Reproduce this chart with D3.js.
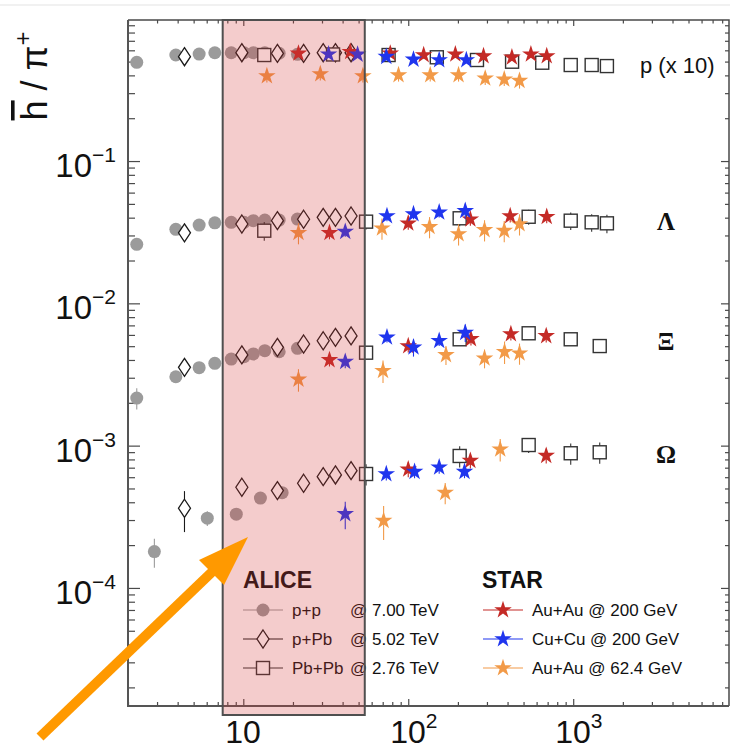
<!DOCTYPE html>
<html><head><meta charset="utf-8">
<script src="https://cdn.jsdelivr.net/npm/d3@7"></script>
<style>body{margin:0;background:#fff}svg{display:block}</style>
</head><body><svg id="c" width="730" height="749"></svg>
<script>
// ---------------- DATA (x = dNch/deta, y = hadron / pi+ ratio; proton plotted x10) ----------------
const bandLabels = ["p (x 10)", "Λ", "Ξ", "Ω"];
const xMajorTicks = [10, 100, 1000];
const yMajorTicks = [1e-1, 1e-2, 1e-3, 1e-4];
const xTickExp = ["", "2", "3"];
const yTickExp = ["−1", "−2", "−3", "−4"];

// ALICE p+p 7.00 TeV
const ppX = [2.26, 3.90, 5.40, 6.72, 8.45, 10.1, 11.5, 13.5, 16.5, 21.3];
const ppProton = [0.494, 0.556, 0.565, 0.577, 0.577, 0.577, 0.577, 0.577, 0.572, 0.562];
const ppLambda = [0.0260, 0.0331, 0.0355, 0.0368, 0.0371, 0.0371, 0.0381, 0.0385, 0.0385, 0.0391];
const ppXi = [2.16e-3, 3.05e-3, 3.53e-3, 3.79e-3, 4.06e-3, 4.22e-3, 4.41e-3, 4.65e-3, 4.57e-3, 4.83e-3];
const ppOmegaX = [2.89, 6.05, 9.07, 12.7, 17.2];
const ppOmega = [1.80e-4, 3.09e-4, 3.30e-4, 4.28e-4, 4.67e-4];
const ppProtonErr = [0.04, 0.03, 0.03, 0.03, 0.03, 0.03, 0.03, 0.03, 0.03, 0.03];
const ppLambdaErr = [0.07, 0.03, 0.03, 0.03, 0.03, 0.03, 0.03, 0.03, 0.03, 0.03];
const ppXiErr = [0.17, 0.06, 0.05, 0.05, 0.05, 0.05, 0.05, 0.05, 0.05, 0.05];
const ppOmegaErr = [0.23, 0.12, 0.07, 0.06, 0.06];

// ALICE p+Pb 5.02 TeV
const pPbX = [4.4, 9.8, 16.1, 23.2, 30.5, 36.2, 45.0];
const pPbProton = [0.541, 0.577, 0.571, 0.571, 0.577, 0.577, 0.577];
const pPbLambda = [0.0313, 0.0361, 0.0381, 0.0390, 0.0402, 0.0402, 0.0411];
const pPbXi = [3.55e-3, 4.34e-3, 4.91e-3, 5.18e-3, 5.46e-3, 5.77e-3, 5.90e-3];
const pPbOmega = [3.63e-4, 5.10e-4, 4.83e-4, 5.44e-4, 6.05e-4, 6.22e-4, 6.67e-4];
const pPbProtonErr = [0.08, 0.03, 0.03, 0.03, 0.03, 0.03, 0.03];
const pPbLambdaErr = [0.13, 0.04, 0.04, 0.04, 0.04, 0.04, 0.04];
const pPbXiErr = [0.12, 0.05, 0.05, 0.05, 0.05, 0.05, 0.05];
const pPbOmegaErr = [0.32, 0.12, 0.10, 0.09, 0.08, 0.08, 0.08];

// ALICE Pb+Pb 2.76 TeV
const PbPbProtonX = [13.4, 35, 76, 149, 261, 426, 649, 966, 1294, 1601];
const PbPbProton = [0.556, 0.561, 0.556, 0.536, 0.513, 0.499, 0.491, 0.473, 0.473, 0.465];
const PbPbLambdaX = [13.4, 55.5, 205, 537, 966, 1294, 1601];
const PbPbLambda = [0.0324, 0.0375, 0.0396, 0.0406, 0.0381, 0.0371, 0.0365];
const PbPbXiX = [55.5, 205, 537, 966, 1448];
const PbPbXi = [4.50e-3, 5.59e-3, 6.16e-3, 5.59e-3, 5.01e-3];
const PbPbOmegaX = [55.5, 205, 537, 966, 1448];
const PbPbOmega = [6.32e-4, 8.46e-4, 1.01e-3, 8.84e-4, 8.98e-4];
const PbPbProtonErr = [0.05, 0.05, 0.05, 0.05, 0.05, 0.05, 0.05, 0.05, 0.05, 0.05];
const PbPbLambdaErr = [0.15, 0.12, 0.12, 0.12, 0.14, 0.14, 0.15];
const PbPbXiErr = [0.05, 0.05, 0.05, 0.05, 0.05];
const PbPbOmegaErr = [0.17, 0.17, 0.12, 0.17, 0.17];

// STAR Au+Au 200 GeV
const AuAu200ProtonX = [21.6, 44.5, 77.8, 124, 193, 286, 425, 554, 691];
const AuAu200Proton = [0.571, 0.586, 0.571, 0.556, 0.563, 0.547, 0.536, 0.563, 0.547];
const AuAu200LambdaX = [33.3, 100, 238, 415, 691];
const AuAu200Lambda = [0.0313, 0.0365, 0.0390, 0.0411, 0.0406];
const AuAu200XiX = [33.3, 100, 240, 419, 686];
const AuAu200Xi = [4.00e-3, 5.01e-3, 5.62e-3, 6.09e-3, 5.90e-3];
const AuAu200OmegaX = [100, 238, 686];
const AuAu200Omega = [6.82e-4, 7.84e-4, 8.50e-4];
const AuAu200ProtonErr = [0.06, 0.06, 0.06, 0.06, 0.06, 0.06, 0.06, 0.06, 0.06];
const AuAu200LambdaErr = [0.10, 0.10, 0.10, 0.10, 0.10];
const AuAu200XiErr = [0.10, 0.10, 0.10, 0.10, 0.10];
const AuAu200OmegaErr = [0.12, 0.12, 0.12];

// STAR Cu+Cu 200 GeV
const CuCuProtonX = [32.9, 49.3, 73.6, 107.6, 154, 225];
const CuCuProton = [0.563, 0.561, 0.541, 0.518, 0.513, 0.513];
const CuCuX = [41.5, 74.3, 107.6, 154, 221.6];
const CuCuLambda = [0.0319, 0.0411, 0.0424, 0.0436, 0.0447];
const CuCuXi = [3.89e-3, 5.77e-3, 4.91e-3, 5.46e-3, 6.22e-3];
const CuCuOmegaX = [41.5, 73.6, 109.2, 154, 219.3];
const CuCuOmega = [3.31e-4, 6.32e-4, 6.56e-4, 7.05e-4, 6.56e-4];
const CuCuProtonErr = [0.05, 0.05, 0.05, 0.05, 0.05, 0.05];
const CuCuLambdaErr = [0.08, 0.08, 0.08, 0.08, 0.12];
const CuCuXiErr = [0.10, 0.08, 0.14, 0.08, 0.14];
const CuCuOmegaErr = [0.22, 0.10, 0.10, 0.10, 0.10];

// STAR Au+Au 62.4 GeV
const AuAu62ProtonX = [13.9, 29.3, 53.1, 87.3, 135.9, 201.8, 292.8, 381.9, 472.6];
const AuAu62Proton = [0.396, 0.409, 0.396, 0.402, 0.402, 0.402, 0.381, 0.375, 0.367];
const AuAu62LambdaX = [21.6, 69.3, 134.6, 201.8, 290, 381.9, 472.6];
const AuAu62Lambda = [0.0313, 0.0337, 0.0345, 0.0307, 0.0328, 0.0324, 0.0361];
const AuAu62XiX = [21.6, 70.3, 169.3, 290, 383.5, 472.6];
const AuAu62Xi = [2.92e-3, 3.36e-3, 4.34e-3, 4.11e-3, 4.57e-3, 4.46e-3];
const AuAu62OmegaX = [70.9, 167.5, 361];
const AuAu62Omega = [2.97e-4, 4.67e-4, 9.43e-4];
const AuAu62ProtonErr = [0.10, 0.10, 0.10, 0.10, 0.10, 0.10, 0.10, 0.10, 0.12];
const AuAu62LambdaErr = [0.17, 0.17, 0.17, 0.17, 0.17, 0.17, 0.17];
const AuAu62XiErr = [0.18, 0.18, 0.15, 0.15, 0.18, 0.17];
const AuAu62OmegaErr = [0.27, 0.17, 0.18];

// Legend
const aliceLabels = ["p+p", "p+Pb", "Pb+Pb"];
const aliceEnergies = ["@ 7.00 TeV", "@ 5.02 TeV", "@ 2.76 TeV"];
const starLabels = ["Au+Au @ 200 GeV", "Cu+Cu @ 200 GeV", "Au+Au @ 62.4 GeV"];
const highlightRange = [7.5, 54.5];

// ---------------- CHART ----------------
const svg = d3.select("#c");
const FONT = "Helvetica, 'Liberation Sans', Arial, sans-serif";
const x = d3.scaleLog().domain([2, 8800]).range([128, 729]);
const y = d3.scaleLog().domain([1.48e-5, 0.98]).range([706, 20]);
const [X0, X1] = x.range();
const [Y0, Y1] = y.range();

const colors = {pp: "#9b9b9b", pPb: "#1a1a1a", PbPb: "#333333", red: "#c42a26", blue: "#1f35ee", orange: "#f29a48"};

// faint page rule at top
svg.append("line").attr("x1", 0).attr("x2", 730).attr("y1", 5).attr("y2", 5).attr("stroke", "#ececec").attr("stroke-width", 1.5);

// minor tick values
const xMinor = [], yMinor = [];
[1, 10, 100, 1000].forEach(d => { for (let k = 2; k <= 9; k++) { const v = d * k; if (v >= 2 && v <= 8800) xMinor.push(v); } });
[1e-5, 1e-4, 1e-3, 1e-2, 1e-1].forEach(d => { for (let k = 2; k <= 9; k++) { const v = d * k; if (v >= 1.48e-5 && v <= 0.98) yMinor.push(v); } });

const axCol = "#4a4a4a";
function styleAxis(g) { g.select(".domain").remove(); g.selectAll("text").remove(); g.selectAll("line").attr("stroke", axCol).attr("stroke-width", 1.2); }
// left
svg.append("g").attr("transform", `translate(${X0},0)`).call(d3.axisLeft(y).tickValues(yMajorTicks).tickSize(-12)).call(styleAxis);
svg.append("g").attr("transform", `translate(${X0},0)`).call(d3.axisLeft(y).tickValues(yMinor).tickSize(-7)).call(styleAxis);
// right
svg.append("g").attr("transform", `translate(${X1},0)`).call(d3.axisRight(y).tickValues(yMajorTicks).tickSize(-8)).call(styleAxis);
svg.append("g").attr("transform", `translate(${X1},0)`).call(d3.axisRight(y).tickValues(yMinor).tickSize(-4)).call(styleAxis);
// bottom
svg.append("g").attr("transform", `translate(0,${Y0})`).call(d3.axisBottom(x).tickValues(xMajorTicks).tickSize(-7)).call(styleAxis);
svg.append("g").attr("transform", `translate(0,${Y0})`).call(d3.axisBottom(x).tickValues(xMinor).tickSize(-4)).call(styleAxis);
// top
svg.append("g").attr("transform", `translate(0,${Y1})`).call(d3.axisTop(x).tickValues(xMajorTicks).tickSize(-6)).call(styleAxis);
svg.append("g").attr("transform", `translate(0,${Y1})`).call(d3.axisTop(x).tickValues(xMinor).tickSize(-3.5)).call(styleAxis);

// frame
svg.append("path").attr("d", `M${X0},${Y1}H${X1}V${Y0}`).attr("fill", "none").attr("stroke", axCol).attr("stroke-width", 1.5);
svg.append("path").attr("d", `M${X1},${Y0}H${X0}V${Y1}`).attr("fill", "none").attr("stroke", "#555").attr("stroke-width", 2);

// tick labels
yMajorTicks.forEach((v, i) => {
  const t = svg.append("text").attr("x", X0 - 12).attr("y", y(v) + 16).attr("text-anchor", "end")
    .style("font-family", FONT).style("font-size", "33px").attr("fill", "#111");
  t.append("tspan").text("10");
  t.append("tspan").attr("dy", -15).style("font-size", "21px").text(yTickExp[i]);
});
xMajorTicks.forEach((v, i) => {
  const t = svg.append("text").attr("x", x(v) - 18).attr("y", 743).attr("text-anchor", "start")
    .style("font-family", FONT).style("font-size", "32px").attr("fill", "#111");
  t.append("tspan").text("10");
  if (xTickExp[i]) t.append("tspan").attr("dy", -15).style("font-size", "21px").text(xTickExp[i]);
});

// y axis title
const yt = svg.append("text").attr("transform", "translate(47,76) rotate(-90)").attr("text-anchor", "middle")
  .style("font-family", FONT).style("font-size", "36px").attr("fill", "#111");
yt.append("tspan").style("text-decoration", "overline").text("h");
yt.append("tspan").text(" / π");
yt.append("tspan").attr("dy", -16).style("font-size", "24px").text("+");

// band labels
svg.append("text").attr("x", 640).attr("y", 73).style("font-family", FONT).style("font-size", "22px").attr("fill", "#111").text(bandLabels[0]);
[[230, 1], [350, 2], [463, 3]].forEach(([by, i]) => {
  svg.append("text").attr("x", 666).attr("y", by).attr("text-anchor", "middle")
    .style("font-family", "'Liberation Serif', 'Times New Roman', serif").style("font-weight", "bold").style("font-size", "25px")
    .attr("fill", "#111").text(bandLabels[i]);
});

// marker helpers
const diamondPath = "M0,-9L6,0L0,9L-6,0Z";
const starPath = d3.symbol(d3.symbolStar, 96)();
function drawMarker(g, kind, color) {
  if (kind === "circle") g.append("circle").attr("r", 6.5).attr("fill", color);
  else if (kind === "diamond") g.append("path").attr("d", diamondPath).attr("fill", "#fff").attr("stroke", color).attr("stroke-width", 1.3);
  else if (kind === "square") g.append("rect").attr("x", -6.5).attr("y", -6.5).attr("width", 13).attr("height", 13).attr("fill", "#fff").attr("stroke", color).attr("stroke-width", 1.4);
  else g.append("path").attr("d", starPath).attr("fill", color);
}

const series = [
  {kind: "circle", color: colors.pp, sets: [[ppX, ppProton, ppProtonErr], [ppX, ppLambda, ppLambdaErr], [ppX, ppXi, ppXiErr], [ppOmegaX, ppOmega, ppOmegaErr]]},
  {kind: "diamond", color: colors.pPb, sets: [[pPbX, pPbProton, pPbProtonErr], [pPbX, pPbLambda, pPbLambdaErr], [pPbX, pPbXi, pPbXiErr], [pPbX, pPbOmega, pPbOmegaErr]]},
  {kind: "square", color: colors.PbPb, sets: [[PbPbProtonX, PbPbProton, PbPbProtonErr], [PbPbLambdaX, PbPbLambda, PbPbLambdaErr], [PbPbXiX, PbPbXi, PbPbXiErr], [PbPbOmegaX, PbPbOmega, PbPbOmegaErr]]},
  {kind: "star", color: colors.orange, sets: [[AuAu62ProtonX, AuAu62Proton, AuAu62ProtonErr], [AuAu62LambdaX, AuAu62Lambda, AuAu62LambdaErr], [AuAu62XiX, AuAu62Xi, AuAu62XiErr], [AuAu62OmegaX, AuAu62Omega, AuAu62OmegaErr]]},
  {kind: "star", color: colors.red, sets: [[AuAu200ProtonX, AuAu200Proton, AuAu200ProtonErr], [AuAu200LambdaX, AuAu200Lambda, AuAu200LambdaErr], [AuAu200XiX, AuAu200Xi, AuAu200XiErr], [AuAu200OmegaX, AuAu200Omega, AuAu200OmegaErr]]},
  {kind: "star", color: colors.blue, sets: [[CuCuProtonX, CuCuProton, CuCuProtonErr], [CuCuX, CuCuLambda, CuCuLambdaErr], [CuCuX, CuCuXi, CuCuXiErr], [CuCuOmegaX, CuCuOmega, CuCuOmegaErr]]}
];

const dataG = svg.append("g");
series.forEach(s => {
  s.sets.forEach(([xs, ys, es]) => {
    const pts = xs.map((xv, i) => ({x: xv, y: ys[i], e: es[i]}));
    const g = dataG.append("g");
    g.selectAll("line").data(pts).join("line")
      .attr("x1", d => x(d.x)).attr("x2", d => x(d.x))
      .attr("y1", d => y(d.y * (1 + d.e))).attr("y2", d => y(d.y * (1 - d.e)))
      .attr("stroke", s.color).attr("stroke-width", 1.1);
    g.selectAll("g.m").data(pts).join("g").attr("class", "m")
      .attr("transform", d => `translate(${x(d.x)},${y(d.y)})`)
      .each(function () { drawMarker(d3.select(this), s.kind, s.color); });
  });
});

// legend
const lg = svg.append("g").style("font-family", FONT).attr("fill", "#111");
lg.append("text").attr("x", 243).attr("y", 588).style("font-size", "23px").style("font-weight", "bold").text("ALICE");
lg.append("text").attr("x", 482).attr("y", 588).style("font-size", "23px").style("font-weight", "bold").text("STAR");
const rowsY = [610, 639, 668];
const aliceKinds = [["circle", colors.pp], ["diamond", colors.pPb], ["square", colors.PbPb]];
aliceKinds.forEach(([k, c], i) => {
  lg.append("line").attr("x1", 243).attr("x2", 283).attr("y1", rowsY[i]).attr("y2", rowsY[i]).attr("stroke", c).attr("stroke-width", 1.2);
  drawMarker(lg.append("g").attr("transform", `translate(263,${rowsY[i]})`), k, c);
  lg.append("text").attr("x", 292).attr("y", rowsY[i] + 6).style("font-size", "17px").text(aliceLabels[i]);
  lg.append("text").attr("x", 350).attr("y", rowsY[i] + 6).style("font-size", "17px").style("white-space", "pre").text(aliceEnergies[i]);
});
[colors.red, colors.blue, colors.orange].forEach((c, i) => {
  lg.append("line").attr("x1", 483).attr("x2", 523).attr("y1", rowsY[i]).attr("y2", rowsY[i]).attr("stroke", c).attr("stroke-width", 1.2);
  drawMarker(lg.append("g").attr("transform", `translate(503,${rowsY[i]})`), "star", c);
  lg.append("text").attr("x", 532).attr("y", rowsY[i] + 6).style("font-size", "17px").text(starLabels[i]);
});

// highlight overlay (semi-transparent red tint over everything beneath)
svg.append("rect").attr("x", x(highlightRange[0])).attr("y", Y1)
  .attr("width", x(highlightRange[1]) - x(highlightRange[0])).attr("height", Y0 + 9 - Y1)
  .attr("fill", "rgb(212,55,55)").attr("fill-opacity", 0.255)
  .attr("stroke", "#4f4f4f").attr("stroke-width", 2);

// orange arrow annotation
svg.append("line").attr("x1", 40).attr("y1", 737).attr("x2", 213).attr("y2", 571)
  .attr("stroke", "#ff9900").attr("stroke-width", 10);
svg.append("path").attr("d", "M248,537L199,560L224,585Z").attr("fill", "#ff9900");
</script></body></html>
